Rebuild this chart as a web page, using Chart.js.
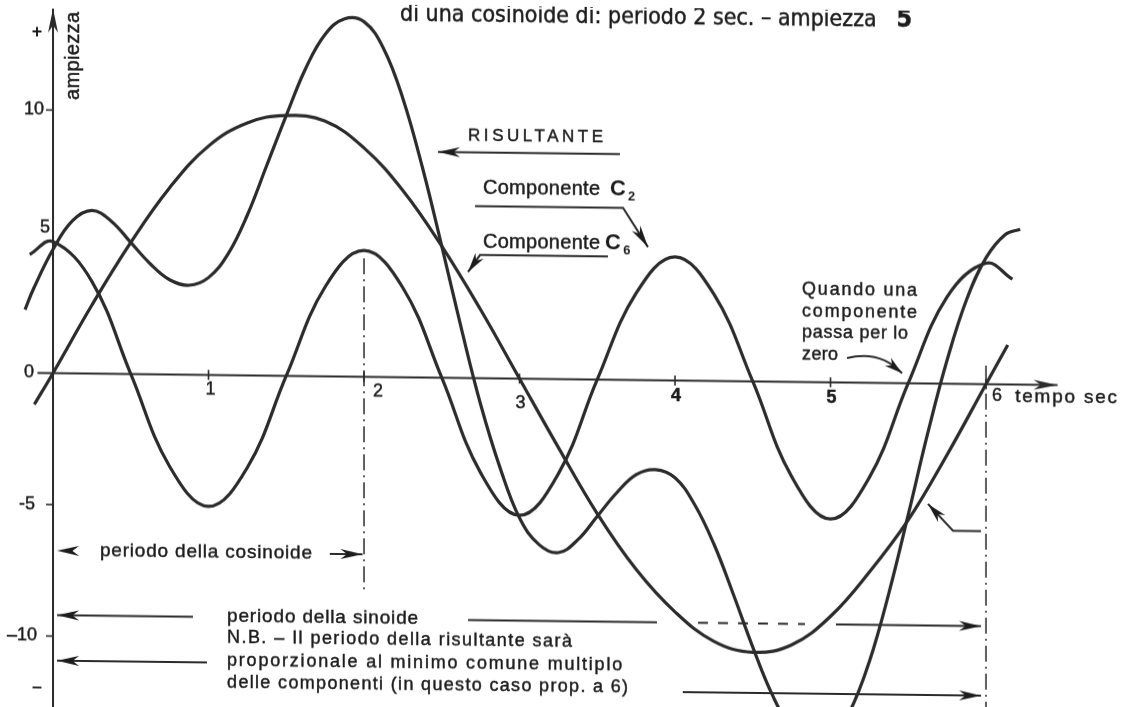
<!DOCTYPE html>
<html lang="it">
<head>
<meta charset="utf-8">
<title>Risultante di una sinoide e di una cosinoide</title>
<script src="https://cdn.jsdelivr.net/npm/chart.js@4.4.1/dist/chart.umd.min.js"></script>
<style>
  html, body { margin: 0; padding: 0; background: #fff; overflow: hidden; }
  #wrap { width: 1126px; height: 707px; }
  /* the scanned figure is slightly sheared: the time axis drops ~11px from left to right */
  canvas { display: block; transform: skewY(0.68deg); transform-origin: 0 0; }
</style>
</head>
<body>
<div id="wrap"><canvas id="chart" width="1126" height="707"></canvas></div>
<script>
// componente C6 (sinoide, periodo 6 sec, ampiezza 10)
const c6Time  = [-0.12, 0, 0.25, 0.5, 0.75, 1, 1.25, 1.5, 1.75, 2, 2.25, 2.5, 2.75, 3,
                 3.25, 3.5, 3.75, 4, 4.25, 4.5, 4.75, 5, 5.25, 5.5, 5.75, 6, 6.14];
const c6Value = [-1.2, 0, 2.6, 5.0, 7.1, 8.7, 9.6, 9.9, 9.7, 8.7, 7.1, 5.0, 2.6, 0,
                 -2.6, -5.1, -7.2, -8.8, -9.9, -10.3, -10.0, -8.9, -7.2, -5.2, -2.7, 0, 1.5];

// componente C2 (cosinoide, periodo 2 sec, ampiezza 5)
const c2Time  = [-0.15, 0, 0.25, 0.5, 0.75, 1, 1.25, 1.5, 1.75, 2, 2.25, 2.5, 2.75, 3,
                 3.25, 3.5, 3.75, 4, 4.25, 4.5, 4.75, 5, 5.25, 5.5, 5.75, 6, 6.17];
const c2Value = [4.5, 5.0, 3.5, 0, -3.5, -5.0, -3.5, 0, 3.4, 4.8, 3.4, 0, -3.6, -5.2,
                 -3.6, 0, 3.3, 4.7, 3.3, 0, -3.6, -5.2, -3.6, 0, 3.3, 4.6, 4.0];

// risultante
const risTime  = [-0.18, -0.125, 0, 0.125, 0.25, 0.375, 0.5, 0.625, 0.75, 0.875, 1,
                  1.125, 1.25, 1.375, 1.5, 1.625, 1.75, 1.875, 2, 2.125, 2.25, 2.375,
                  2.5, 2.625, 2.75, 2.875, 3, 3.125, 3.25, 3.375, 3.5, 3.625, 3.75,
                  3.875, 4, 4.125, 4.25, 4.375, 4.5, 4.625, 4.75, 4.875, 5, 5.125,
                  5.25, 5.375, 5.5, 5.625, 5.75, 5.875, 6, 6.125, 6.22];
const risValue = [2.4, 3.2, 4.7, 5.8, 6.2, 5.8, 5.0, 4.2, 3.6, 3.4, 3.7,
                  4.6, 6.1, 8.0, 9.9, 11.7, 13.0, 13.6, 13.5, 12.5, 10.6, 8.0,
                  5.0, 1.9, -1.0, -3.4, -5.3, -6.3, -6.6, -6.1, -5.2, -4.3, -3.6,
                  -3.4, -3.7, -4.7, -6.2, -8.1, -10.1, -11.9, -13.2, -13.8, -13.6, -12.5,
                  -10.6, -8.0, -5.0, -1.9, 0.9, 3.2, 4.8, 5.7, 5.9];

const xTickValues = [1, 2, 3, 4, 5, 6];
const xTickLabels = ['1', '2', '3', '4', '5', '6'];
const yTickValues = [10, 5, 0, -5, -10];
const yTickLabels = ['10', '5', '0', '-5', '–10'];

const X_MIN = -0.341, X_MAX = 6.900;
const Y_MIN = -12.72, Y_MAX = 14.16;

const ink = '#2b2b2b';
const textInk = '#1c1c1c';
const sans = '"Liberation Sans", Arial, Helvetica, sans-serif';

// label nudges in px (style only)
const xLabelNudge = [[2, 15], [14, 15], [1, 25], [1, 16], [1, 16], [11, 12]];
const yLabelNudge = [[-9, 0], [-3, -14], [-19, 0], [-18, 0], [-16, 0]];

function toPoints(ts, vs) {
  return ts.map((t, i) => ({ x: t, y: vs[i] }));
}

function poly(ctx, pts) {
  ctx.beginPath();
  ctx.moveTo(pts[0][0], pts[0][1]);
  for (let i = 1; i < pts.length; i++) ctx.lineTo(pts[i][0], pts[i][1]);
  ctx.stroke();
}

function head(ctx, from, to, len = 20, half = 4.5) {
  const a = Math.atan2(to[1] - from[1], to[0] - from[0]);
  ctx.save();
  ctx.translate(to[0], to[1]);
  ctx.rotate(a);
  ctx.beginPath();
  ctx.moveTo(0, 0);
  ctx.lineTo(-len, -half);
  ctx.lineTo(-len * 0.7, 0);
  ctx.lineTo(-len, half);
  ctx.closePath();
  ctx.fill();
  ctx.restore();
}

function arrow(ctx, pts, len, half) {
  poly(ctx, pts);
  head(ctx, pts[pts.length - 2], pts[pts.length - 1], len, half);
}

// printed text is a little heavier than Liberation Sans regular
function ink_text(ctx, str, x, y) {
  ctx.fillText(str, x, y);
  ctx.save();
  ctx.lineWidth = 0.45;
  ctx.strokeStyle = textInk;
  ctx.strokeText(str, x, y);
  ctx.restore();
}

// draws text stretched by letter spacing to a target width
function fitText(ctx, str, x, y, width, font, align) {
  ctx.font = font;
  ctx.letterSpacing = '0px';
  ctx.textAlign = align || 'left';
  if (width) {
    const w = ctx.measureText(str).width;
    ctx.letterSpacing = ((width - w) / Math.max(1, str.length - 1)).toFixed(2) + 'px';
  }
  ink_text(ctx, str, x, y);
  ctx.letterSpacing = '0px';
}

const figure = {
  id: 'figure',
  beforeDatasetsDraw(chart) {
    const ctx = chart.ctx;
    const X = v => chart.scales.x.getPixelForValue(v);
    const Y = v => chart.scales.y.getPixelForValue(v);
    ctx.save();
    ctx.strokeStyle = ink;
    ctx.fillStyle = ink;
    ctx.lineWidth = 2;
    ctx.lineCap = 'butt';

    // asse dei tempi
    arrow(ctx, [[X(-0.1), Y(0)], [X(6.46), Y(0)]], 24, 5);
    // asse delle ampiezze
    arrow(ctx, [[X(0), Y(Y_MIN)], [X(0), Y(13.86)]], 24, 5);

    ctx.lineWidth = 1.6;
    xTickValues.forEach(t => poly(ctx, [[X(t), Y(0) - 5], [X(t), Y(0) + 5]]));
    yTickValues.forEach(v => { if (v !== 0) poly(ctx, [[X(0) - 7, Y(v)], [X(0), Y(v)]]); });

    // tratto-punto a 2 e 6 sec
    ctx.lineWidth = 1.5;
    ctx.setLineDash([16, 5, 2, 5]);
    poly(ctx, [[X(2), Y(4.5)], [X(2), Y(-8.2)]]);
    poly(ctx, [[X(6), Y(0.7)], [X(6), Y(Y_MIN)]]);
    ctx.setLineDash([]);
    ctx.restore();
  },
  afterDatasetsDraw(chart) {
    const ctx = chart.ctx;
    const X = v => chart.scales.x.getPixelForValue(v);
    const Y = v => chart.scales.y.getPixelForValue(v);
    ctx.save();
    ctx.fillStyle = textInk;
    ctx.strokeStyle = ink;
    ctx.textBaseline = 'middle';

    // titolo (condensato, ampiezza in neretto)
    const parts = [['di una cosinoide di: periodo 2 sec. – ampiezza   ', false], ['5', true]];
    const tf = b => (b ? 'bold 25px ' : '23px ') + '"Liberation Sans Narrow", "DejaVu Sans Condensed", sans-serif';
    let tw = 0;
    parts.forEach(p => { ctx.font = tf(p[1]); tw += ctx.measureText(p[0]).width; });
    ctx.save();
    ctx.translate(X(2.232), Y(13.78));
    ctx.scale(512 / tw, 1);
    ctx.textAlign = 'left';
    let cx = 0;
    parts.forEach(p => { ctx.font = tf(p[1]); ink_text(ctx, p[0], cx, 0); cx += ctx.measureText(p[0]).width; });
    ctx.restore();

    // etichette asse y
    ctx.save();
    ctx.translate(X(0.129), Y(12.11));
    ctx.rotate(-Math.PI / 2);
    fitText(ctx, 'ampiezza', -45, 0, 88, '20px ' + sans, 'left');
    ctx.restore();
    ctx.font = 'bold 18px ' + sans;
    ctx.textAlign = 'center';
    ctx.fillText('+', X(-0.103), Y(12.96));
    ctx.fillText('–', X(-0.103), Y(-11.95));
    ctx.font = '18px ' + sans;
    ctx.textAlign = 'right';
    yTickValues.forEach((v, i) => {
      ink_text(ctx, yTickLabels[i], X(0) + yLabelNudge[i][0], Y(v) + yLabelNudge[i][1]);
    });

    // etichette asse dei tempi
    ctx.textAlign = 'center';
    xTickValues.forEach((t, i) => {
      ctx.font = (t === 4 || t === 5 ? 'bold ' : '') + '18px ' + sans;
      ink_text(ctx, xTickLabels[i], X(t) + xLabelNudge[i][0], Y(0) + xLabelNudge[i][1]);
    });
    fitText(ctx, 'tempo sec', X(6.187), Y(-0.46), 102, '19px ' + sans);

    ctx.lineWidth = 2;
    // RISULTANTE
    fitText(ctx, 'RISULTANTE', X(2.669), Y(9.19), 135, '17px ' + sans);
    ctx.lineWidth = 2;
    arrow(ctx, [[X(3.646), Y(8.58)], [X(2.476), Y(8.58)]], 22, 5);

    // Componente C2
    fitText(ctx, 'Componente', X(2.765), Y(7.23), 117, '20px ' + sans);
    ctx.font = 'bold 22px ' + sans;
    ctx.fillText('C', X(3.582), Y(7.23));
    ctx.font = 'bold 13px ' + sans;
    ctx.fillText('2', X(3.698), Y(7.23) + 7);
    ctx.lineWidth = 2;
    arrow(ctx, [[X(2.714), Y(6.54)], [X(3.666), Y(6.54)], [X(3.826), Y(5.06)]], 22, 5);

    // Componente C6
    fitText(ctx, 'Componente', X(2.765), Y(5.18), 117, '20px ' + sans);
    ctx.font = 'bold 22px ' + sans;
    ctx.fillText('C', X(3.55), Y(5.18));
    ctx.font = 'bold 13px ' + sans;
    ctx.fillText('6', X(3.667), Y(5.18) + 7);
    ctx.lineWidth = 2;
    arrow(ctx, [[X(3.569), Y(4.68)], [X(2.746), Y(4.68)], [X(2.669), Y(4.03)]], 20, 5);

    // Quando una componente passa per lo zero
    const qLines = ['Quando una', 'componente', 'passa per lo', 'zero'];
    const qV = [3.50, 2.66, 1.86, 1.03];
    const qW = [115, 115, 106, 36];
    qLines.forEach((s, i) => fitText(ctx, s, X(4.817), Y(qV[i]), qW[i], '18px ' + sans));
    ctx.lineWidth = 2;
    ctx.beginPath();
    ctx.moveTo(X(5.106), Y(0.93));
    ctx.quadraticCurveTo(X(5.318), Y(1.25), X(5.46), Y(0.38));
    ctx.stroke();
    head(ctx, [X(5.37), Y(0.8)], [X(5.46), Y(0.38)], 18, 5);
    arrow(ctx, [[X(5.968), Y(-5.59)], [X(5.788), Y(-5.59)], [X(5.627), Y(-4.58)]], 20, 5);

    // periodo della cosinoide
    head(ctx, [X(0.3), Y(-6.75)], [X(0.026), Y(-6.75)], 22, 5);
    fitText(ctx, 'periodo della cosinoide', X(0.302), Y(-6.75), 212, '19px ' + sans);
    ctx.lineWidth = 2;
    arrow(ctx, [[X(1.78), Y(-6.75)], [X(1.99), Y(-6.75)]], 22, 5);

    // periodo della sinoide
    arrow(ctx, [[X(0.9), Y(-9.2)], [X(0.026), Y(-9.2)]], 22, 5);
    fitText(ctx, 'periodo della sinoide', X(1.119), Y(-9.16), 191, '19px ' + sans);
    ctx.lineWidth = 2;
    poly(ctx, [[X(2.669), Y(-9.2)], [X(3.884), Y(-9.2)]]);
    ctx.setLineDash([10, 10]);
    poly(ctx, [[X(4.148), Y(-9.2)], [X(4.836), Y(-9.2)]]);
    ctx.setLineDash([]);
    arrow(ctx, [[X(5.035), Y(-9.2)], [X(5.968), Y(-9.2)]], 22, 5);

    // N.B.
    const nb = ['N.B. – Il periodo della risultante sarà',
                'proporzionale al minimo comune multiplo',
                'delle componenti (in questo caso prop. a 6)'];
    const nbV = [-10.0, -10.85, -11.7];
    const nbW = [345, 395, 401];
    nb.forEach((s, i) => fitText(ctx, s, X(1.119), Y(nbV[i]), nbW[i], '18px ' + sans));
    ctx.lineWidth = 2;
    arrow(ctx, [[X(0.99), Y(-10.93)], [X(0.026), Y(-10.93)]], 22, 5);
    arrow(ctx, [[X(4.05), Y(-11.85)], [X(5.968), Y(-11.85)]], 22, 5);

    ctx.restore();
  }
};

const lineStyle = {
  borderColor: ink,
  borderWidth: 3.2,
  pointRadius: 0,
  fill: false,
  tension: 0.4
};

new Chart(document.getElementById('chart'), {
  type: 'line',
  data: {
    datasets: [
      { label: 'Componente C6', data: toPoints(c6Time, c6Value), ...lineStyle },
      { label: 'Componente C2', data: toPoints(c2Time, c2Value), ...lineStyle },
      { label: 'Risultante', data: toPoints(risTime, risValue), ...lineStyle }
    ]
  },
  options: {
    responsive: false,
    animation: false,
    layout: { padding: 0 },
    plugins: { legend: { display: false }, tooltip: { enabled: false } },
    scales: {
      x: { type: 'linear', min: X_MIN, max: X_MAX, display: false },
      y: { type: 'linear', min: Y_MIN, max: Y_MAX, display: false }
    }
  },
  plugins: [figure]
});
</script>
</body>
</html>
